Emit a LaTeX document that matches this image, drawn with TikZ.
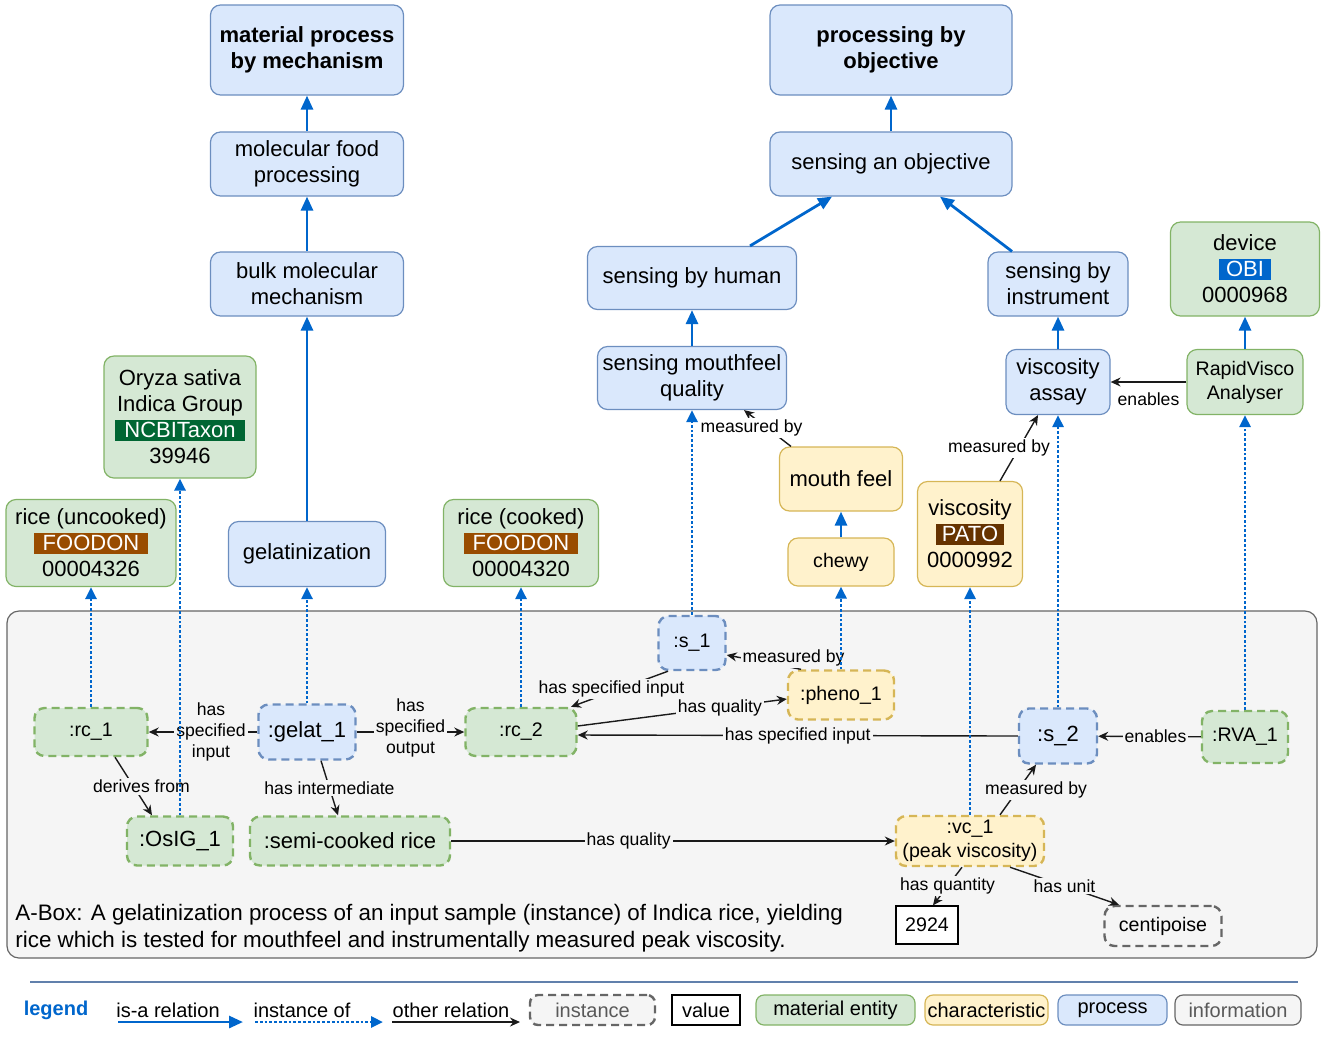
\documentclass[tikz,border=0pt]{standalone}
\usepackage{fontspec}
\setmainfont{Liberation Sans}
\usetikzlibrary{arrows.meta}
\definecolor{procfill}{HTML}{DAE8FC}
\definecolor{procdraw}{HTML}{6C8EBF}
\definecolor{matfill}{HTML}{D5E8D4}
\definecolor{matdraw}{HTML}{82B366}
\definecolor{chrfill}{HTML}{FFF2CC}
\definecolor{chrdraw}{HTML}{D6B656}
\definecolor{isablue}{HTML}{0066CC}
\definecolor{aboxfill}{HTML}{F5F5F5}
\definecolor{aboxdraw}{HTML}{666666}
\definecolor{reldraw}{HTML}{1A1A1A}
\definecolor{foodon}{HTML}{994C00}
\definecolor{ncbi}{HTML}{006633}
\definecolor{pato}{HTML}{663300}
\newcommand{\boxfont}{\fontsize{11}{13}\selectfont}
\newcommand{\smallfont}{\fontsize{9.8}{12}\selectfont}
\newcommand{\lblfont}{\fontsize{8.8}{10.5}\selectfont}
\newcommand{\legfont}{\fontsize{10}{12}\selectfont}
\newcommand{\tagbox}[3]{{\setlength{\fboxsep}{1.3pt}\colorbox{#2}{\makebox[#1]{\fontsize{11}{12}\selectfont\textcolor{white}{#3}}}}}
\begin{document}
\begin{tikzpicture}[x=0.5pt,y=-0.5pt,
	box/.style={rounded corners=5pt,line width=0.6pt,align=center,inner sep=0pt,font=\boxfont},
	proc/.style={box,draw=procdraw,fill=procfill},
	mat/.style={box,draw=matdraw,fill=matfill},
	chr/.style={box,draw=chrdraw,fill=chrfill},
	inst/.style={line width=1.2pt,dash pattern=on 4pt off 2.5pt},
	isa/.style={draw=isablue,line width=1.4pt,-{Triangle[length=7pt,width=6pt]}},
	insof/.style={draw=isablue,line width=1.4pt,dash pattern=on 1.4pt off 1pt,-{Triangle[length=6pt,width=5.5pt]}},
	rel/.style={draw=reldraw,line width=0.7pt,-{Stealth[length=5pt,width=4.5pt]}},
	lbl/.style={font=\lblfont,fill=aboxfill,inner sep=1pt,align=center},
	olbl/.style={lbl,fill=white},
	leg/.style={rounded corners=4pt,line width=0.6pt,inner sep=0pt,minimum height=15pt,font=\legfont}]
	\useasboundingbox (0,0) rectangle (1325,1040);
	% T-box
	\node[proc,font=\boxfont\bfseries,minimum width=96.5pt,minimum height=45pt] (mpm) at (307,50) {material process\\by mechanism};
	\node[proc,minimum width=96.5pt,minimum height=32pt] (mfp) at (307,164) {molecular food\\processing};
	\node[proc,minimum width=96.5pt,minimum height=32pt] (bmm) at (307,284) {bulk molecular\\mechanism};
	\node[proc,minimum width=78.5pt,minimum height=32.5pt] (gel) at (307,554) {gelatinization};
	\node[mat,minimum width=76pt,minimum height=61pt] (oryza) at (180,417) {Oryza sativa\\Indica Group\\\tagbox{62pt}{ncbi}{NCBITaxon}\\39946};
	\node[mat,minimum width=85pt,minimum height=43.5pt] (riceu) at (91,543) {rice (uncooked)\\\tagbox{54pt}{foodon}{FOODON}\\00004326};
	\node[mat,minimum width=77.5pt,minimum height=43.5pt] (ricec) at (521,543) {rice (cooked)\\\tagbox{54pt}{foodon}{FOODON}\\00004320};
	\node[proc,font=\boxfont\bfseries,minimum width=121pt,minimum height=45pt] (pbo) at (891,50) {processing by\\objective};
	\node[proc,minimum width=121pt,minimum height=32pt] (sao) at (891,164) {sensing an objective};
	\node[proc,minimum width=104.5pt,minimum height=31.5pt] (sbh) at (692,278) {sensing by human};
	\node[proc,minimum width=70pt,minimum height=32pt] (sbi) at (1058,284) {sensing by\\instrument};
	\node[proc,minimum width=94.5pt,minimum height=31.5pt] (smq) at (692,378) {sensing mouthfeel\\quality};
	\node[proc,minimum width=52pt,minimum height=32.5pt] (va) at (1058,382) {viscosity\\assay};
	\node[mat,minimum width=74.5pt,minimum height=47pt] (dev) at (1245,269) {device\\\tagbox{23pt}{isablue}{OBI}\\0000968};
	\node[mat,minimum width=58pt,minimum height=32.5pt,font=\smallfont] (rva) at (1245,382) {RapidVisco\\Analyser};
	\node[chr,minimum width=61.5pt,minimum height=32pt] (mf) at (841,479) {mouth feel};
	\node[chr,minimum width=53pt,minimum height=24pt,font=\smallfont] (chewy) at (841,562) {chewy};
	\node[chr,minimum width=52.5pt,minimum height=52.5pt] (visc) at (970,534) {viscosity\\\tagbox{31.5pt}{pato}{PATO}\\0000992};
	\draw[isa] (gel) -- (bmm);
	\draw[isa] (bmm) -- (mfp);
	\draw[isa] (mfp) -- (mpm);
	\draw[isa] (sao) -- (pbo);
	\draw[isa] ([xshift=29pt]sbh.north) -- ([xshift=-29.5pt]sao.south);
	\draw[isa] ([xshift=-23pt]sbi.north) -- ([xshift=24.5pt]sao.south);
	\draw[isa] (smq) -- (sbh);
	\draw[isa] (va) -- (sbi);
	\draw[isa] (rva) -- (dev);
	\draw[isa] (chewy) -- (mf);
	\draw[rel] (rva.west) -- (va.east) node[olbl,midway,below=4pt] {enables};
	\draw[rel] ([xshift=-25pt]mf.north) -- ([xshift=26pt]smq.south) node[olbl,midway,xshift=-8pt] {measured by};
	\draw[rel] ([xshift=15pt]visc.north) -- ([xshift=-10pt]va.south) node[olbl,midway,xshift=-10pt] {measured by};
	% A-box
	\node[draw=aboxdraw,fill=aboxfill,rounded corners=6pt,line width=0.6pt,minimum width=655pt,minimum height=173.5pt] (abox) at (662,784.5) {};
	\node[anchor=west,align=left,font=\fontsize{11.2}{13.5}\selectfont,inner sep=0pt] (aboxtext) at (15,928) {A-Box: A gelatinization process of an input sample (instance) of Indica rice, yielding\\rice which is tested for mouthfeel and instrumentally measured peak viscosity.};
	\node[mat,inst,minimum width=56.5pt,minimum height=24pt,font=\smallfont] (rc1) at (91,732) {:rc\_1};
	\node[proc,inst,minimum width=48.5pt,minimum height=27.5pt] (gelat1) at (307,732) {:gelat\_1};
	\node[mat,inst,minimum width=55.5pt,minimum height=24pt,font=\smallfont] (rc2) at (521,732) {:rc\_2};
	\node[proc,inst,minimum width=33.5pt,minimum height=27pt,font=\smallfont] (s1) at (692,643) {:s\_1};
	\node[chr,inst,minimum width=53pt,minimum height=24.5pt,font=\smallfont] (pheno1) at (841,695) {:pheno\_1};
	\node[proc,inst,minimum width=39pt,minimum height=27.5pt] (s2) at (1058,736) {:s\_2};
	\node[mat,inst,minimum width=43pt,minimum height=26pt,font=\smallfont] (rva1) at (1245,737) {:RVA\_1};
	\node[mat,inst,minimum width=53pt,minimum height=24.5pt] (osig1) at (180,841) {:OsIG\_1};
	\node[mat,inst,minimum width=100pt,minimum height=24.5pt] (semi) at (350,841) {:semi-cooked rice};
	\node[chr,inst,minimum width=74pt,minimum height=25pt,font=\smallfont] (vc1) at (970,841) {:vc\_1\\(peak viscosity)};
	\node[draw=black,fill=white,line width=0.7pt,minimum width=31pt,minimum height=19pt,inner sep=0pt,font=\smallfont] (val) at (927,925) {2924};
	\node[box,inst,draw=aboxdraw,fill=aboxfill,minimum width=58.5pt,minimum height=20pt,font=\smallfont] (centi) at (1163,926) {centipoise};
	\draw[rel] (gelat1) -- (rc1) node[lbl,midway,xshift=4pt] {has\\specified\\input};
	\draw[rel] (gelat1) -- (rc2) node[lbl,midway,yshift=2pt] {has\\specified\\output};
	\draw[rel] ([xshift=12pt]rc1.south) -- ([xshift=-14pt]osig1.north) node[lbl,midway,xshift=4pt] {derives from};
	\draw[rel] ([xshift=7pt]gelat1.south) -- ([xshift=-6pt]semi.north) node[lbl,midway] {has intermediate};
	\draw[rel] (semi) -- (vc1) node[lbl,pos=0.4] {has quality};
	\draw[rel] ([xshift=-12pt]s1.south) -- ([xshift=25pt]rc2.north) node[lbl,midway,xshift=-4pt] {has specified input};
	\draw[rel] ([yshift=3pt]rc2.east) -- ([yshift=-2pt]pheno1.west) node[lbl,pos=0.68] {has quality};
	\draw[rel] (s2.west) -- ([yshift=-1.5pt]rc2.east) node[lbl,midway] {has specified input};
	\draw[rel] ([xshift=-20pt]pheno1.north) -- ([yshift=-6pt]s1.east) node[lbl,pos=0.1,yshift=5pt] {measured by};
	\draw[rel] (rva1) -- (s2) node[lbl,midway,xshift=3pt] {enables};
	\draw[rel] ([xshift=15pt]vc1.north) -- ([xshift=-11pt]s2.south) node[lbl,midway,xshift=9pt] {measured by};
	\draw[rel] ([xshift=-4pt]vc1.south) -- ([xshift=3pt]val.north) node[lbl,midway] {has quantity};
	\draw[rel] ([xshift=20pt]vc1.south) -- ([xshift=-22pt]centi.north) node[lbl,midway] {has unit};
	\draw[insof] (rc1) -- (riceu);
	\draw[insof] (osig1) -- (oryza);
	\draw[insof] (gelat1) -- (gel);
	\draw[insof] (rc2) -- (ricec);
	\draw[insof] (s1) -- (smq);
	\draw[insof] (pheno1) -- (chewy);
	\draw[insof] (vc1) -- (visc);
	\draw[insof] (s2) -- (va);
	\draw[insof] (rva1) -- (rva);
	% legend
	\coordinate (legL) at (30,982);
	\coordinate (legR) at (1298,982);
	\draw[procdraw!90!black,line width=1.2pt] (legL) -- (legR);
	\node[font=\legfont\bfseries,text=isablue] (lgtitle) at (56,1010) {legend};
	\node[font=\legfont] (lgisa) at (168,1010) {is-a relation};
	\node[font=\legfont] (lginsof) at (302,1010) {instance of};
	\node[font=\legfont] (lgrel) at (451,1010) {other relation};
	\coordinate (isaA) at (118,1022);
	\coordinate (isaB) at (243,1022);
	\coordinate (insofA) at (255,1022);
	\coordinate (insofB) at (383,1022);
	\coordinate (relA) at (392,1022);
	\coordinate (relB) at (520,1022);
	\draw[isa] (isaA) -- (isaB);
	\draw[insof] (insofA) -- (insofB);
	\draw[rel] (relA) -- (relB);
	\node[leg,inst,draw=aboxdraw,fill=aboxfill,text=black!65,minimum width=62.5pt] (lginst) at (592.5,1010) {instance};
	\node[leg,rounded corners=0pt,draw=black,fill=white,minimum width=34pt] (lgval) at (706,1010) {value};
	\node[leg,draw=matdraw,fill=matfill,minimum width=79.5pt] (lgmat) at (835.5,1010) {material entity};
	\node[leg,draw=chrdraw,fill=chrfill,minimum width=61.5pt] (lgchr) at (986.5,1010) {characteristic};
	\node[leg,draw=procdraw,fill=procfill,minimum width=54.5pt] (lgproc) at (1112.5,1010) {process};
	\node[leg,draw=aboxdraw,fill=aboxfill,text=black!65,minimum width=63pt] (lginfo) at (1238,1010) {information};
\end{tikzpicture}
\end{document}
